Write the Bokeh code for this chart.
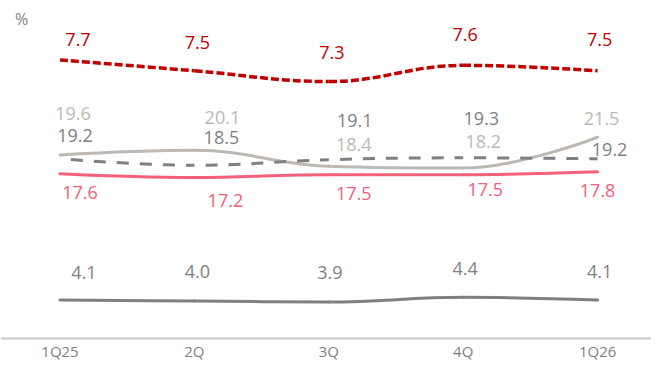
from bokeh.plotting import figure
from bokeh.models import Range1d, ColumnDataSource, Label, Span
from bokeh.core.properties import value
from bokeh.embed import file_html
from bokeh.resources import INLINE

# ---- data ----
categories = ["1Q25", "2Q", "3Q", "4Q", "1Q26"]
red_vals = [7.7, 7.5, 7.3, 7.6, 7.5]          # secondary scale, dashed dark red
light_vals = [19.6, 20.1, 18.4, 18.2, 21.5]   # light grey solid
dash_vals = [19.2, 18.5, 19.1, 19.3, 19.2]    # grey dashed
pink_vals = [17.6, 17.2, 17.5, 17.5, 17.8]    # pink solid
low_vals = [4.1, 4.0, 3.9, 4.4, 4.1]          # dark grey solid

# ---- label placement (pixel offsets from each point) ----
red_dx = [18, 3, 3, 2, 2]
red_dy = [-20, -28, -29, -31, -31]
light_dx = [13, 28, 25, 20, 4]
light_dy = [-42, -33, -22, -27, -19]
dash_dx = [15, 27, 26, 18, 12]
dash_dy = [-23, -28, -39, -39, -9]
pink_dx = [20, 31, 25, 22, 0]
pink_dy = [19, 23, 19, 15, 19]
low_dx = [24, 3, 1, 2, 2]
low_dy = [-28, -30, -29, -29, -29]

RED = "#C00000"
LIGHT = "#BDB8B3"
DARK = "#7F7F84"
PINK = "#F2607B"
FONT = "Open Sans"

xs = list(range(len(categories)))


def spline_segments(xv, yv, s=1.5):
    """Highcharts-style spline control points -> bezier segments."""
    n = len(xv)
    lc = [(xv[i], yv[i]) for i in range(n)]
    rc = [(xv[i], yv[i]) for i in range(n)]
    for i in range(1, n - 1):
        lx, ly = xv[i - 1], yv[i - 1]
        nx, ny = xv[i + 1], yv[i + 1]
        x, y = xv[i], yv[i]
        d = s + 1
        lcx = (s * x + lx) / d
        lcy = (s * y + ly) / d
        rcx = (s * x + nx) / d
        rcy = (s * y + ny) / d
        corr = ((rcy - lcy) * (rcx - x)) / (rcx - lcx) + y - rcy
        lcy += corr
        rcy += corr
        if lcy > ly and lcy > y:
            lcy = max(ly, y); rcy = 2 * y - lcy
        elif lcy < ly and lcy < y:
            lcy = min(ly, y); rcy = 2 * y - lcy
        if rcy > ny and rcy > y:
            rcy = max(ny, y); lcy = 2 * y - rcy
        elif rcy < ny and rcy < y:
            rcy = min(ny, y); lcy = 2 * y - rcy
        lc[i] = (lcx, lcy)
        rc[i] = (rcx, rcy)
    return dict(
        x0=xv[:-1], y0=yv[:-1], x1=xv[1:], y1=yv[1:],
        cx0=[rc[i][0] for i in range(n - 1)], cy0=[rc[i][1] for i in range(n - 1)],
        cx1=[lc[i + 1][0] for i in range(n - 1)], cy1=[lc[i + 1][1] for i in range(n - 1)],
    )


p = figure(width=651, height=362, output_backend="svg", toolbar_location=None,
           x_range=Range1d(-0.4427, 4.4010), y_range=Range1d(-2.564, 36.105),
           x_axis_location=None, y_axis_location=None,
           min_border_left=0, min_border_right=0, min_border_top=0, min_border_bottom=0)
p.extra_y_ranges = {"ret": Range1d(2.117, 8.796)}
p.xgrid.visible = False
p.ygrid.visible = False
p.outline_line_color = None
p.background_fill_color = "white"
p.border_fill_color = "white"

# baseline (category axis line) at 0
p.add_layout(Span(location=0, dimension="width", line_color="#C8C8C8", line_width=2))

# category labels under the axis line
p.text(source=ColumnDataSource(dict(x=xs, y=[0] * len(xs), t=categories)),
       x="x", y="y", text="t", y_offset=13,
       text_font=value(FONT), text_font_size="15px", text_color="#7F7F7F",
       text_align="center", text_baseline="middle")


def draw(vals, color, dash="solid", rng="default", dash_offset=0, width=3):
    seg = spline_segments(xs, vals)
    p.bezier(source=ColumnDataSource(seg), x0="x0", y0="y0", x1="x1", y1="y1",
             cx0="cx0", cy0="cy0", cx1="cx1", cy1="cy1",
             line_color=color, line_width=width, line_dash=dash,
             line_dash_offset=dash_offset, line_cap="round" if dash == "solid" else "butt",
             y_range_name=rng)


def labels(vals, color, dx, dy, rng="default"):
    src = ColumnDataSource(dict(x=xs, y=vals, t=[f"{v:.1f}" for v in vals], dx=dx, dy=dy))
    p.text(source=src, x="x", y="y", text="t", x_offset="dx", y_offset="dy",
           text_color=color, text_font=value(FONT), text_font_size="18px",
           text_align="center", text_baseline="middle", y_range_name=rng)


draw(low_vals, DARK)
draw(pink_vals, PINK)
draw(light_vals, LIGHT)
draw(dash_vals, DARK, dash="12 11", dash_offset=12)
draw(red_vals, RED, dash="8 3", rng="ret", width=3.5)

labels(red_vals, RED, red_dx, red_dy, rng="ret")
labels(light_vals, LIGHT, light_dx, light_dy)
labels(dash_vals, DARK, dash_dx, dash_dy)
labels(pink_vals, PINK, pink_dx, pink_dy)
labels(low_vals, DARK, low_dx, low_dy)

p.add_layout(Label(x=-0.2865, y=34.1, text="%",
                   text_font=FONT, text_font_size="16px", text_color="#808080",
                   text_align="center", text_baseline="middle"))

open("out.html", "w").write(file_html(p, INLINE))
